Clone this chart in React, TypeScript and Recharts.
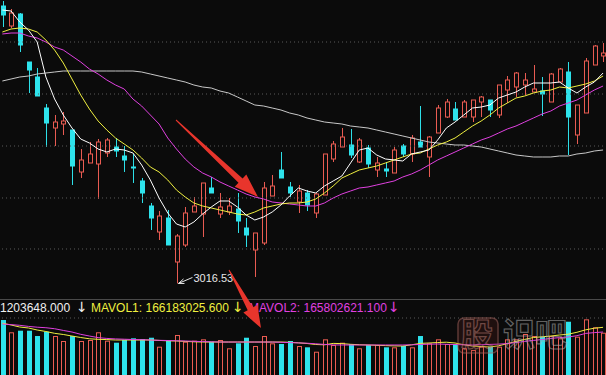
import React from 'react';
import { ComposedChart, Bar, Line, XAxis, YAxis, ReferenceLine, ReferenceDot } from 'recharts';

const BG = '#0b0b0b';
const UP = '#ec5d53';
const DOWN = '#2ee3ec';

// daily bars, index 0..69
const openP = [3294, 3274, 3286, 3238, 3223, 3192, 3172, 3176, 3170, 3128, 3137, 3136, 3147, 3153, 3144, 3133, 3119, 3094, 3068, 3082,
  3038, 3055, 3088, 3086, 3112, 3086, 3088, 3091, 3072, 3050, 3057, 3104, 3130, 3113, 3098, 3107, 3087, 3105, 3141, 3153,
  3155, 3138, 3152, 3130, 3131, 3127, 3154, 3146, 3158, 3143, 3167, 3183, 3191, 3183, 3183, 3198, 3200, 3185, 3210, 3213,
  3215, 3208, 3209, 3198, 3218, 3228, 3165, 3187, 3235, 3244];
const highP = [3299, 3291, 3287, 3238, 3232, 3196, 3185, 3188, 3170, 3151, 3158, 3161, 3162, 3162, 3154, 3146, 3122, 3097, 3089, 3090,
  3066, 3093, 3103, 3117, 3123, 3107, 3102, 3107, 3082, 3067, 3118, 3125, 3148, 3118, 3115, 3110, 3107, 3146, 3159, 3172,
  3171, 3162, 3155, 3143, 3138, 3153, 3156, 3165, 3194, 3164, 3195, 3201, 3198, 3200, 3200, 3204, 3200, 3215, 3224, 3228,
  3227, 3235, 3223, 3227, 3232, 3238, 3195, 3242, 3255, 3257];
const lowP = [3273, 3272, 3248, 3207, 3204, 3153, 3154, 3165, 3115, 3122, 3137, 3101, 3143, 3143, 3128, 3117, 3097, 3070, 3060, 3055,
  3016.53, 3053, 3088, 3063, 3107, 3082, 3085, 3067, 3053, 3023, 3055, 3104, 3122, 3103, 3087, 3089, 3082, 3105, 3138, 3153,
  3142, 3137, 3132, 3123, 3123, 3127, 3143, 3138, 3153, 3123, 3167, 3182, 3180, 3183, 3178, 3183, 3183, 3182, 3197, 3203,
  3205, 3208, 3184, 3198, 3218, 3145, 3156, 3187, 3235, 3238];
const closeP = [3285, 3287, 3255, 3230, 3204, 3177, 3178, 3179, 3134, 3140, 3146, 3158, 3160, 3149, 3140, 3132, 3107, 3082, 3084, 3055,
  3064, 3087, 3094, 3117, 3107, 3093, 3094, 3079, 3065, 3067, 3112, 3114, 3122, 3107, 3109, 3095, 3106, 3146, 3156, 3163,
  3145, 3160, 3136, 3137, 3129, 3150, 3146, 3162, 3153, 3163, 3192, 3198, 3180, 3198, 3200, 3203, 3190, 3215, 3220, 3227,
  3220, 3211, 3206, 3226, 3231, 3183, 3195, 3239, 3254, 3247];

const ma5 = [3290, 3289, 3278, 3270, 3258, 3223, 3201, 3185, 3172, 3161, 3157, 3151, 3148, 3151, 3150, 3147, 3135, 3120, 3102, 3087,
  3076, 3073, 3078, 3086, 3093, 3099, 3099, 3093, 3085, 3080, 3083, 3088, 3095, 3104, 3112, 3109, 3107, 3114, 3119, 3124,
  3137, 3150, 3152, 3145, 3141, 3140, 3139, 3146, 3148, 3150, 3160, 3172, 3178, 3185, 3192, 3193, 3195, 3202, 3205, 3208,
  3213, 3217, 3217, 3217, 3218, 3212, 3207, 3213, 3218, 3227];
const ma10 = [3268, 3271, 3272, 3271, 3268, 3260, 3250, 3237, 3221, 3205, 3191, 3179, 3170, 3162, 3156, 3150, 3142, 3133, 3128, 3120,
  3110, 3103, 3097, 3094, 3092, 3090, 3088, 3086, 3085, 3088, 3092, 3094, 3096, 3097, 3097, 3098, 3101, 3107, 3114, 3122,
  3126, 3130, 3132, 3134, 3137, 3140, 3143, 3146, 3147, 3151, 3155, 3158, 3162, 3168, 3174, 3179, 3185, 3192, 3197, 3202,
  3204, 3207, 3209, 3210, 3213, 3212, 3214, 3216, 3219, 3224];
const ma20 = [3266, 3267, 3267, 3264, 3262, 3258, 3253, 3250, 3244, 3238, 3231, 3226, 3220, 3215, 3211, 3201, 3194, 3185, 3176, 3162,
  3151, 3141, 3133, 3127, 3123, 3118, 3114, 3110, 3106, 3103, 3101, 3098, 3097, 3096, 3095, 3094, 3094, 3097, 3102, 3106,
  3109, 3112, 3113, 3115, 3117, 3119, 3123, 3126, 3130, 3135, 3140, 3144, 3148, 3152, 3156, 3160, 3163, 3167, 3171, 3174,
  3178, 3182, 3186, 3189, 3194, 3197, 3200, 3205, 3210, 3214];
const ma60 = [3219, 3221, 3223, 3224, 3226, 3227, 3228, 3229, 3229, 3229, 3229, 3229, 3229, 3229, 3229, 3229, 3228, 3226, 3224, 3222,
  3220, 3218, 3215, 3213, 3212, 3209, 3207, 3203, 3199, 3195, 3194, 3192, 3190, 3187, 3185, 3182, 3180, 3178, 3177, 3176,
  3174, 3173, 3172, 3170, 3168, 3166, 3164, 3162, 3160, 3158, 3157, 3156, 3155, 3155, 3154, 3153, 3151, 3149, 3147, 3145,
  3144, 3143, 3143, 3143, 3144, 3144, 3146, 3147, 3149, 3150];

// volume, millions of shares
const vol = [184.1, 151.8, 156.0, 156.0, 142.0, 153.3, 142.0, 128.9, 142.0, 128.9, 131.5, 151.8, 129.7, 124.4, 131.5, 136.0, 134.1, 137.5, 113.9, 131.5,
  144.7, 127.0, 129.7, 133.3, 127.0, 131.5, 109.7, 122.8, 137.5, 115.7, 142.0, 122.8, 121.0, 128.9, 115.7, 112.3, 100.7, 133.3, 118.4, 124.4,
  121.0, 109.7, 118.4, 118.4, 112.3, 112.3, 115.7, 112.3, 142.0, 122.8, 133.3, 121.0, 121.0, 109.7, 105.2, 113.9, 113.9, 113.9, 133.3, 133.3,
  147.3, 142.0, 140.2, 142.0, 136.0, 179.6, 140.2, 185.9, 164.9, 150.7];
const mavol1 = [175.7, 171.0, 165.7, 163.1, 157.8, 153.9, 149.1, 146.0, 142.0, 138.1, 134.7, 133.3, 132.6, 131.5, 131.5, 131.5, 131.5, 131.5, 130.4, 129.4,
  128.9, 127.8, 126.8, 126.2, 126.2, 126.2, 126.2, 126.2, 126.2, 126.2, 126.2, 126.2, 126.2, 125.5, 124.1, 122.3, 119.7, 118.9, 122.6, 122.0,
  120.2, 119.1, 118.4, 117.6, 116.8, 116.0, 115.7, 118.9, 122.6, 123.6, 124.9, 125.7, 123.6, 119.1, 115.5, 114.4, 113.1, 116.2, 122.0, 127.6,
  133.1, 138.1, 139.9, 142.0, 144.7, 146.8, 151.8, 158.3, 162.5, 164.9];
const mavol2 = [173.6, 172.0, 170.2, 167.3, 165.2, 163.8, 161.2, 156.7, 152.5, 146.5, 142.0, 137.8, 135.7, 134.4, 133.6, 132.8, 132.3, 131.5, 130.7, 130.2,
  129.4, 128.9, 128.1, 127.3, 126.8, 126.2, 126.2, 126.2, 126.2, 126.2, 126.2, 126.2, 125.5, 124.7, 123.9, 123.1, 121.5, 119.9, 118.6, 118.4,
  118.4, 118.4, 118.4, 118.4, 118.4, 118.4, 118.4, 118.9, 119.7, 120.5, 121.0, 120.2, 119.7, 118.9, 118.4, 119.1, 119.9, 120.7, 122.0, 124.9,
  127.8, 130.4, 132.8, 135.7, 137.8, 139.4, 142.8, 148.9, 151.0, 152.5];

const priceGrid = [3051, 3102, 3154, 3206, 3258];
const volTop = 189.4;
const lowLabel = '3016.53';
const lowIndex = 20;

const rows = openP.map((o, i) => ({
  i,
  open: o,
  high: highP[i],
  low: lowP[i],
  close: closeP[i],
  ma5: ma5[i],
  ma10: ma10[i],
  ma20: ma20[i],
  ma60: ma60[i],
  vol: vol[i],
  mavol1: mavol1[i],
  mavol2: mavol2[i],
}));

function Candle(props: any) {
  const { x, y, width, height, payload } = props;
  if (x == null || payload == null) return null;
  const { open, close, high, low } = payload;
  const top = Math.min(y, y + height);
  const h = Math.abs(height);
  const k = high === low ? 0 : h / (high - low);
  const yo = top + (high - open) * k;
  const yc = top + (high - close) * k;
  const up = close >= open;
  const color = up ? UP : DOWN;
  const left = Math.round(x + width / 2) - 2;
  const wx = left + 2.5;
  const bTop = Math.min(yo, yc);
  const bH = Math.max(Math.abs(yo - yc), 1);
  return (
    <g>
      <line x1={wx} x2={wx} y1={top} y2={top + h} stroke={color} strokeWidth={1} />
      {up ? (
        <rect x={left + 0.5} y={bTop} width={4} height={bH} fill={BG} stroke={color} strokeWidth={1} />
      ) : (
        <rect x={left} y={bTop - 0.5} width={5} height={bH + 1} fill={color} />
      )}
    </g>
  );
}

function VolBar(props: any) {
  const { x, y, width, height, payload } = props;
  if (x == null || payload == null) return null;
  const up = payload.close >= payload.open;
  const left = Math.round(x + width / 2) - 2;
  return up ? (
    <rect x={left + 0.5} y={y + 0.5} width={4} height={height} fill={BG} stroke={UP} strokeWidth={1} />
  ) : (
    <rect x={left} y={y} width={5} height={height} fill={DOWN} />
  );
}

function LowMark(props: any) {
  const { cx, cy } = props;
  if (cx == null) return null;
  const tx = cx + 2;
  const ty = cy;
  return (
    <g>
      <line x1={tx} y1={ty} x2={tx + 14} y2={ty - 6} stroke="#e8e8e8" strokeWidth={1} />
      <polyline points={`${tx + 5},${ty - 4.5} ${tx},${ty} ${tx + 6},${ty}`} fill="none" stroke="#e8e8e8" strokeWidth={1} />
      <text x={tx + 15} y={ty - 1} fill="#e8e8e8" fontSize={11} fontFamily='"Liberation Sans", Arial, sans-serif'>
        {lowLabel}
      </text>
    </g>
  );
}

function arrowPoly(x1: number, y1: number, x2: number, y2: number, tailW: number, shaftW: number, headW: number, headLen: number) {
  const dx = x2 - x1;
  const dy = y2 - y1;
  const len = Math.hypot(dx, dy);
  const ux = dx / len;
  const uy = dy / len;
  const px = -uy;
  const py = ux;
  const bx = x2 - ux * headLen;
  const by = y2 - uy * headLen;
  const pts = [
    [x1 + px * tailW / 2, y1 + py * tailW / 2],
    [bx + px * shaftW / 2, by + py * shaftW / 2],
    [bx + px * headW / 2, by + py * headW / 2],
    [x2, y2],
    [bx - px * headW / 2, by - py * headW / 2],
    [bx - px * shaftW / 2, by - py * shaftW / 2],
    [x1 - px * tailW / 2, y1 - py * tailW / 2],
  ];
  return pts.map((p) => p.map((v) => v.toFixed(1)).join(',')).join(' ');
}

const band = 8.706;
const chartW = band * rows.length;
const chartLeft = 2 - band / 2;

const lineProps = { strokeWidth: 1, dot: false, activeDot: false, isAnimationActive: false } as const;
const arrowFont = '"DejaVu Sans", sans-serif';

export default function App() {
  return (
    <div
      style={{
        position: 'fixed',
        left: 0,
        top: 0,
        width: 606,
        height: 375,
        background: BG,
        overflow: 'hidden',
        fontFamily: '"Liberation Sans", Arial, sans-serif',
      }}
    >
      <div style={{ position: 'absolute', left: chartLeft, top: 0 }}>
        <ComposedChart width={chartW} height={299} data={rows} margin={{ top: 0, right: 0, bottom: 0, left: 0 }}>
          <XAxis dataKey="i" hide />
          <YAxis hide domain={[3001, 3300]} allowDataOverflow />
          {priceGrid.map((v) => (
            <ReferenceLine key={v} y={v} stroke="#5c5c5c" strokeDasharray="1 3" />
          ))}
          <Line dataKey="ma60" stroke="#c8c8c8" {...lineProps} />
          <Line dataKey="ma20" stroke="#e040e0" {...lineProps} />
          <Line dataKey="ma10" stroke="#f0f040" {...lineProps} />
          <Bar dataKey={(d: any) => [d.low, d.high]} barSize={5} shape={<Candle />} isAnimationActive={false} />
          <Line dataKey="ma5" stroke="#ffffff" {...lineProps} />
          <ReferenceDot x={lowIndex} y={lowP[lowIndex]} r={0} shape={<LowMark />} />
        </ComposedChart>
      </div>

      <div style={{ position: 'absolute', left: 0, top: 299, width: 606, height: 1, background: '#4a4a4a' }} />

      <div style={{ position: 'absolute', left: chartLeft, top: 310 }}>
        <ComposedChart width={chartW} height={80} data={rows} margin={{ top: 8, right: 0, bottom: 0, left: 0 }}>
          <XAxis dataKey="i" hide />
          <YAxis hide domain={[0, volTop]} allowDataOverflow />
          <ReferenceLine y={volTop} stroke="#5c5c5c" strokeDasharray="1 3" />
          <Bar dataKey="vol" barSize={5} shape={<VolBar />} isAnimationActive={false} />
          <Line dataKey="mavol1" stroke="#f0f040" {...lineProps} />
          <Line dataKey="mavol2" stroke="#e040e0" {...lineProps} />
        </ComposedChart>
      </div>

      <div style={{ position: 'absolute', top: 301, left: 0, fontSize: 12, lineHeight: '14px', whiteSpace: 'pre' }}>
        <span style={{ position: 'absolute', left: 0, color: '#f0f0f0' }}>1203648.000</span>
        <span style={{ position: 'absolute', left: 76, top: -1, color: '#f0f0f0', fontFamily: arrowFont, fontSize: 14 }}>↓</span>
        <span style={{ position: 'absolute', left: 91, color: '#f0f040' }}>MAVOL1: 166183025.600</span>
        <span style={{ position: 'absolute', left: 232, top: -1, color: '#f0f040', fontFamily: arrowFont, fontSize: 14 }}>↓</span>
        <span style={{ position: 'absolute', left: 249, color: '#e040e0' }}>MAVOL2: 165802621.100</span>
        <span style={{ position: 'absolute', left: 388, top: -1, color: '#e040e0', fontFamily: arrowFont, fontSize: 14 }}>↓</span>
      </div>

      <svg width={606} height={375} style={{ position: 'absolute', left: 0, top: 0, pointerEvents: 'none' }}>
        <g opacity={0.55}>
          <rect x={458} y={318} width={40} height={35} rx={6} fill="rgba(120,40,36,0.35)" stroke="#a0605a" strokeWidth={1.5} />
          <text x={461} y={346} fontSize={32} fontFamily='"Noto Sans CJK SC", sans-serif' fontWeight={700} fill="none" stroke="#c07a72" strokeWidth={1.2}>
            股
          </text>
          <text x={503} y={346} fontSize={32} fontFamily='"Noto Sans CJK SC", sans-serif' fontWeight={700} fill="none" stroke="#a8a8a8" strokeWidth={1.2}>
            识吧
          </text>
        </g>
        <polygon points={arrowPoly(176, 120, 258, 197, 1, 6, 17, 24)} fill="#e8352c" />
        <polygon points={arrowPoly(229, 270, 261, 328, 1, 6, 16, 22)} fill="#e8352c" />
      </svg>
    </div>
  );
}
